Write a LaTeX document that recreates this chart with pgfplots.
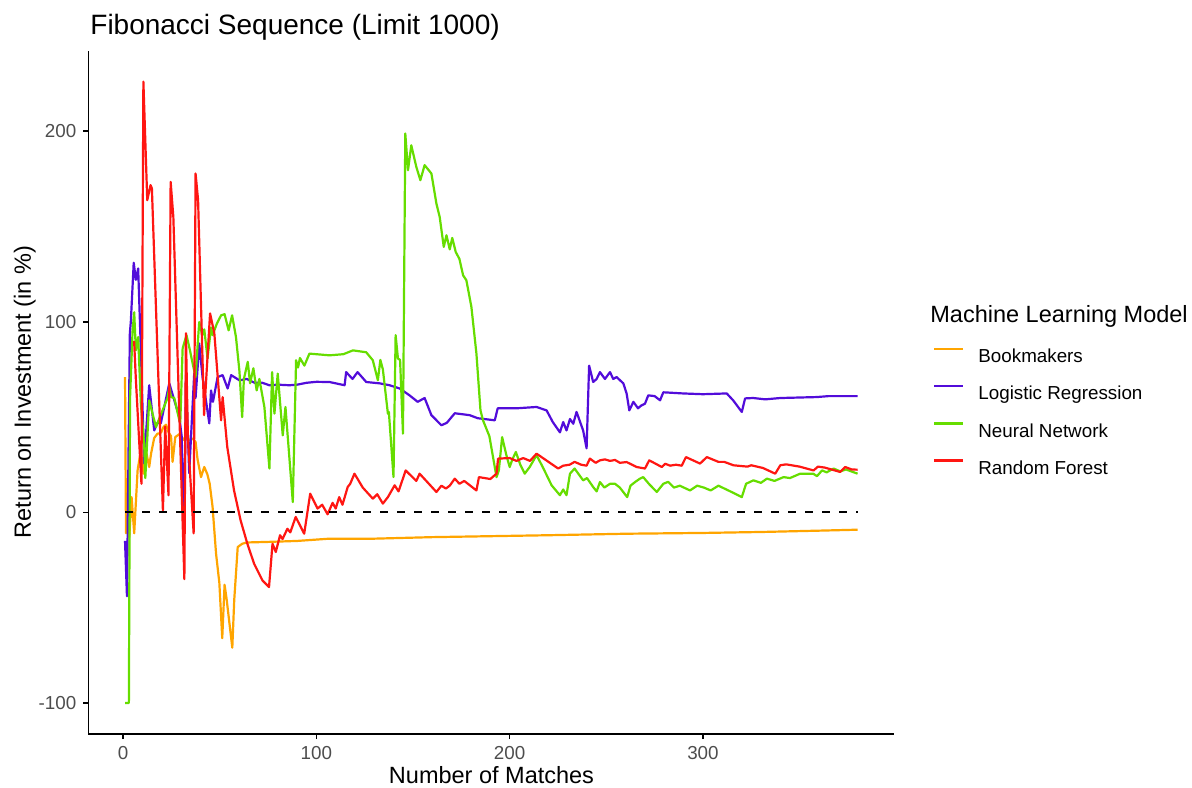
\documentclass[border=0pt]{standalone}
\usepackage{fontspec}
\setmainfont{Liberation Sans}
\usepackage{pgfplots}
\pgfplotsset{compat=1.18}
\definecolor{cbook}{RGB}{255,165,0}
\definecolor{clog}{RGB}{82,12,218}
\definecolor{cnn}{RGB}{102,221,0}
\definecolor{crf}{RGB}{255,22,18}
\definecolor{gray30}{RGB}{77,77,77}
\begin{document}
\begin{tikzpicture}
\path[use as bounding box] (0,0) rectangle (596pt,393.5pt);
\begin{axis}[
  at={(44.15pt,26.5pt)}, anchor=south west,
  width=403pt, height=341.7pt, scale only axis,
  xmin=-18, xmax=399, ymin=-116.3, ymax=242.3,
  axis lines=left, axis line style={-, line width=0.8pt, black},
  xtick={0,100,200,300}, xticklabels={0,100,200,300},
  ytick={-100,0,100,200}, yticklabels={-100,0,100,200},
  tick align=outside, major tick length=2.5pt,
  tick style={black, line width=0.75pt},
  ticklabel style={font=\fontsize{9.4}{11}\selectfont, text=gray30},
  every axis plot/.append style={line width=1.1pt, line join=round},
  legend style={at={(axis description cs:1.048,0.565)}, anchor=north west,
    draw=none, fill=none, inner sep=0pt, outer sep=0pt, row sep=11.2pt,
    font=\fontsize{9.4}{11}\selectfont,
    nodes={inner sep=0pt, text height=6.8pt, text depth=0pt},
    /tikz/every odd column/.style={column sep=7pt}},
  legend cell align=left,
  legend image code/.code={\draw[#1, line width=1.2pt] (0pt,3.4pt) -- (14.5pt,3.4pt);},
]
% Bookmakers
\addplot[cbook] coordinates {
(1,71) (1.5,-11) (2.2,-5) (3.2,-13) (4.4,8) (5.75,-11) (7.5,22) (9.2,32.5) (10.6,20.3)
(11.8,32.5) (13.5,23.8) (14.5,31) (16.1,39) (17.8,41.3) (18.7,41.4) (19.7,42) (20.9,44.8)
(22.2,46) (23.5,42) (24.8,40) (25.6,26.5) (27,39.5) (29,41) (31,38) (32.5,40) (34,38)
(36,38.7) (37.5,37) (38.5,28) (40.3,18.5) (42,23.8) (43.6,20) (44.8,15) (46.3,2.8)
(48.1,-21.7) (49.8,-37) (51.3,-66) (52.5,-38) (53.5,-45) (56.5,-71) (57.5,-46) (59.3,-18.2)
(61.6,-16.5) (64,-15.8) (75,-15.5) (90,-15.0) (106.8,-13.8) (130,-13.8) (160,-13)
(190,-12.5) (220,-12) (261,-11.2) (300,-10.8) (330,-10.3) (360,-9.6) (380,-9.1)
};
% Logistic Regression
\addplot[clog] coordinates {
(1,-15) (2,-44) (3.5,94) (4,100) (5.5,131) (6.6,122) (7.8,128) (9.2,85) (10.9,25.7)
(13.5,66.7) (16.1,43) (17.8,47) (19.5,46.7) (23.9,67.7) (26.5,58.8) (29.1,50) (30.3,40)
(31.7,-11) (32.5,72) (34.2,20.5) (36.8,73) (37.5,60) (39.4,88.6) (41.1,71) (44.6,46.7)
(45.5,64) (46.5,58) (48.9,71) (51.5,72) (54.1,65) (55.9,72) (60.2,69.3) (64,70) (68,68)
(72,68) (75.7,66.7) (80,67) (86.1,66.7) (90,67) (95,68) (100,68.5) (106.8,68.4)
(114.6,66.7) (115.4,73.6) (118.7,70) (121.3,73.6) (125.8,68.4) (132.7,67.7) (137.9,66.7)
(143.1,65) (148.2,61.4) (152.4,58) (156,60) (159.5,51) (164.7,45.7) (167.5,47) (171.6,52)
(179.3,51) (183.5,49.4) (192.3,48.3) (193.8,54.6) (203.5,54.6) (213.9,55.3) (219.1,53.5)
(222.3,47.4) (226,42) (227.7,47.4) (229.4,43) (231.2,49) (232.9,46.5) (234.6,52.7)
(238,43) (239.8,33.6) (241.1,77) (243.2,68.4) (245,70) (246.7,73.6) (249.3,70) (251.9,73.6)
(253.6,70) (255.3,71) (258.8,67.7) (260.5,62.4) (261.9,53.5) (264,58) (266.4,54.6)
(268,56) (270,57) (271.7,61.4) (275,61) (277.8,58.8) (279.5,63) (289.7,62.4) (300,62)
(312.3,62.4) (315.6,58.8) (320.1,52.7) (321.8,59.8) (326,60) (332.2,59.3) (340,60)
(358.9,60.5) (365,61) (380,61)
};
% Neural Network
\addplot[cnn] coordinates {
(1,-100) (3,-100) (3.6,60) (4.9,95) (5.75,105) (6.6,85) (7.8,92) (9.2,57) (10.9,36)
(11.5,18) (13.5,58.8) (17,44.8) (20.4,53.5) (23,60) (23.9,65.8) (24.8,60.5) (26.5,60)
(29.1,48.3) (29.6,47.4) (30.8,86) (32.8,93) (34.6,85) (36,78) (37.5,71) (38.5,86.8)
(39.4,99.9) (41,93) (42,96) (43.7,80.8) (45.5,97) (46.3,93) (48.5,99) (50.7,103.4)
(52.5,104) (54.6,95.5) (56.4,103.4) (58.4,92) (60.2,74) (61.6,50) (62.5,70) (64.5,79)
(65.7,67.7) (67.4,75.6) (69.1,64) (70.5,70) (73.1,55.3) (75.7,23) (77.1,73.6) (78.3,51.8)
(80,72.8) (82.6,40.4) (84,55.3) (87.8,5.4) (89.5,79.8) (90.5,76) (91.5,81) (93.8,77)
(96.4,83.3) (106.8,82.4) (114,83) (118.9,85) (125.8,84) (129.2,79.8) (131.8,69.3)
(133.1,80) (134.4,75) (137,51.8) (137.5,52.7) (139.9,18.5) (141,93) (142.2,80.7)
(143.3,80) (144.8,41.3) (146,198.8) (147.4,179.5) (149.1,192.6) (151.7,181.3)
(153.8,174.3) (156,182.2) (159.5,177.8) (162.1,162) (163.8,155) (165.9,139.3)
(167.3,145.4) (169,138) (170.3,144) (172.1,136.6) (174,133) (175.9,124.4) (177.6,121.8)
(180.2,107.8) (182.8,83.3) (184.9,53.5) (186.2,48.3) (189.5,40) (193.2,18.5) (194.4,22)
(196.1,39.5) (198.3,30) (200,23.8) (201.5,28) (203.2,31.7) (205.5,25) (207.8,20.3)
(210.5,24) (213.9,30) (217,24) (221.7,14.2) (226,9) (227.7,12) (229.4,9) (231.2,20.3)
(233.6,23) (238,16.8) (240,18) (243.2,13.3) (245,11) (246.7,15.9) (249,13) (251.9,15)
(254.5,15) (257,13) (260.8,8) (262.5,14) (265,16) (267.4,17.7) (269.1,18.5) (272,15)
(276.1,10.7) (279.5,15) (282,16) (285,13) (288,14) (293.3,11.5) (297,14) (300.5,13)
(304,11.5) (308,14) (315.8,10.2) (320.1,8) (322.3,15) (326.1,16.8) (330,15.5)
(333.1,17.7) (337,16.5) (341.7,18.5) (345,18) (350.3,20.3) (357,20.3) (359,19)
(361.6,22) (364,21) (367.6,23) (371,21.5) (374,22.5) (380,20.3)
};
% Random Forest
\addplot[crf] coordinates {
(5.7,90) (6.6,70) (9.5,15) (10.5,226) (12.5,163.8) (14.2,171.7) (14.9,170) (20.6,1)
(21.8,45) (23.5,9) (24.6,173.4) (26,155) (31.7,-35) (32.5,94) (33.5,40) (36.5,-11)
(37.5,177.8) (38.8,163.8) (41.9,51) (45,104.4) (47.2,94) (50.7,48.3) (51.5,60.5)
(53.9,34.3) (57.4,11.5) (60.8,-4.2) (64.3,-16.5) (67.8,-27) (72.1,-35.7) (75.5,-39.2)
(77.3,-16.5) (79,-20.8) (81.2,-12) (82.5,-14) (85,-8.6) (86.5,-10.5) (89.3,-2.4)
(93.7,-11.2) (96.8,9.8) (100.6,2) (103,4) (105.8,-1) (108.4,5) (110,2) (111.8,8)
(113.5,4) (116.2,13.3) (117.5,15) (119.7,20.3) (124,13) (129.2,7.2) (131.5,9.5)
(134.4,4.6) (137,8) (140.5,14.2) (142.5,11) (146.2,22) (151.7,16.5) (153.4,20.3)
(162.1,10.7) (164.7,14) (167,12.5) (169,14) (171.6,17.7) (174,15) (176.5,16.5)
(182.8,11.5) (184.1,18.5) (190,17.5) (193.2,20.3) (194,28.2) (200,28.5) (203.5,27)
(207,28.5) (210.5,27) (213.9,30.8) (225.1,23) (227.7,24.5) (231,25) (233.6,26.5)
(237,25) (239.8,24.5) (241.5,28.2) (244.5,26) (246.7,27.3) (249.3,27.8) (251.9,27)
(254.5,27.5) (257,26) (260.5,26.4) (265.7,23.8) (270,23) (272.2,27.3) (278.7,23.8)
(280.5,25.5) (283,24.5) (286,25) (289,24.5) (291.2,29) (298.5,25.6) (302,29) (308,26.5)
(311,26.5) (315.8,24.7) (323,24) (325,24.7) (331,23.3) (337.4,20.3) (340,24.7)
(343,25.2) (350,24) (357.2,22) (359.5,24) (363,23.5) (371,21.2) (373.6,23.8)
(377,22.5) (380,22.4)
};
\addplot[black, line width=1.1pt, dash pattern=on 4pt off 4.5pt, forget plot] coordinates {(1,0) (380,0)};
\legend{Bookmakers, Logistic Regression, Neural Network, Random Forest}
\end{axis}
\node[anchor=base west, inner sep=0pt, font=\fontsize{14}{16}\selectfont] at (45pt,376pt) {Fibonacci Sequence (Limit 1000)};
\node[anchor=base, inner sep=0pt, font=\fontsize{11.75}{14}\selectfont] at (245.75pt,2pt) {Number of Matches};
\node[anchor=base, inner sep=0pt, rotate=90, font=\fontsize{11.75}{14}\selectfont] at (15.5pt,197.5pt) {Return on Investment (in \%)};
\node[anchor=base west, inner sep=0pt, font=\fontsize{11.75}{14}\selectfont] at (465pt,232pt) {Machine Learning Model};
\end{tikzpicture}
\end{document}
